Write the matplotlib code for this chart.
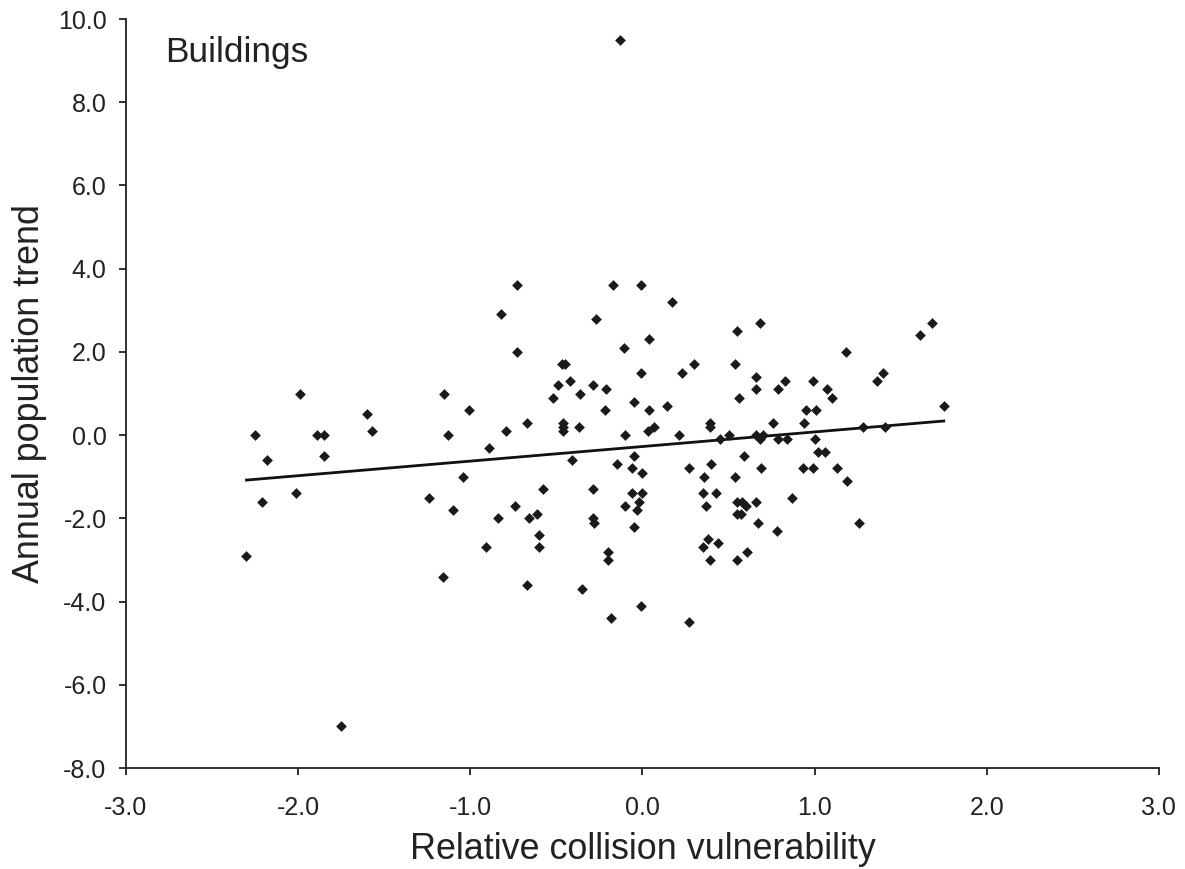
import matplotlib
matplotlib.use("Agg")
import matplotlib.pyplot as plt
import numpy as np

plt.rcParams['font.family'] = ['Liberation Sans', 'DejaVu Sans']

# Relative collision vulnerability (x) and annual population trend (y)
x_vals = [
    -2.30, -2.25, -2.18, -2.21, -1.99, -2.01, -1.89, -1.85, -1.85, -1.75,
    -1.60, -1.57, -1.15, -1.13, -1.01, -0.89, -0.79, -0.73, -1.24, -1.10,
    -1.04, -0.84, -0.74, -0.91, -1.16,
    -0.73, -0.82, -0.17, -0.01, -0.27, 0.17, -0.11, 0.04, 0.55, -0.47,
    -0.45, -0.49, -0.42, -0.36, -0.52, -0.29, -0.21, -0.22, -0.01, -0.05,
    0.04, 0.14, 0.23, 0.30, 0.54, 0.56, -0.67, -0.46, -0.46, -0.46,
    -0.37, -0.10, 0.03, 0.07, 0.21, 0.39, 0.39, 0.45, 0.50, -0.13,
    -0.41, -0.05, -0.15, -0.06, 0.00, 0.27, 0.40, 0.36, 0.54, -0.58,
    -0.29, -0.06, 0.00, -0.02, -0.10, -0.03, 0.35, 0.43, 0.37, 0.55,
    0.55, -0.66, -0.61, -0.60, -0.60, -0.29, -0.28, -0.05, -0.20, -0.20,
    0.38, 0.35, 0.44, 0.39, 0.55, -0.67, -0.35, -0.01, -0.18, 0.27,
    0.68, 0.66, 0.66, 0.83, 0.79, 0.99, 1.07, 1.10, 1.18, 1.61,
    1.68, 1.36, 1.40, 1.75, 0.95, 1.01, 0.94, 0.76, 1.28, 1.41,
    0.66, 0.68, 0.70, 0.79, 0.84, 1.00, 0.59, 0.69, 0.93, 0.99,
    1.02, 1.06, 1.13, 1.19, 0.87, 0.58, 0.60, 0.66, 0.57, 0.67,
    0.78, 1.26, 0.61,
]
y_vals = [
    -2.9, 0.0, -0.6, -1.6, 1.0, -1.4, 0.0, 0.0, -0.5, -7.0,
    0.5, 0.1, 1.0, 0.0, 0.6, -0.3, 0.1, 2.0, -1.5, -1.8,
    -1.0, -2.0, -1.7, -2.7, -3.4,
    3.6, 2.9, 3.6, 3.6, 2.8, 3.2, 2.1, 2.3, 2.5, 1.7,
    1.7, 1.2, 1.3, 1.0, 0.9, 1.2, 1.1, 0.6, 1.5, 0.8,
    0.6, 0.7, 1.5, 1.7, 1.7, 0.9, 0.3, 0.3, 0.2, 0.1,
    0.2, 0.0, 0.1, 0.2, 0.0, 0.3, 0.2, -0.1, 0.0, 9.5,
    -0.6, -0.5, -0.7, -0.8, -0.9, -0.8, -0.7, -1.0, -1.0, -1.3,
    -1.3, -1.4, -1.4, -1.6, -1.7, -1.8, -1.4, -1.4, -1.7, -1.6,
    -1.9, -2.0, -1.9, -2.4, -2.7, -2.0, -2.1, -2.2, -2.8, -3.0,
    -2.5, -2.7, -2.6, -3.0, -3.0, -3.6, -3.7, -4.1, -4.4, -4.5,
    2.7, 1.4, 1.1, 1.3, 1.1, 1.3, 1.1, 0.9, 2.0, 2.4,
    2.7, 1.3, 1.5, 0.7, 0.6, 0.6, 0.3, 0.3, 0.2, 0.2,
    0.0, -0.1, 0.0, -0.1, -0.1, -0.1, -0.5, -0.8, -0.8, -0.8,
    -0.4, -0.4, -0.8, -1.1, -1.5, -1.6, -1.7, -1.6, -1.9, -2.1,
    -2.3, -2.1, -2.8,
]

# Trend line endpoints
trend_x = [-2.30, 1.75]
trend_y = [-1.08, 0.34]

x_ticks = [-3.0, -2.0, -1.0, 0.0, 1.0, 2.0, 3.0]
y_ticks = [-8.0, -6.0, -4.0, -2.0, 0.0, 2.0, 4.0, 6.0, 8.0, 10.0]

fig = plt.figure(figsize=(11.85, 8.69), dpi=100)
ax = fig.add_axes([0.1063, 0.1162, 0.8717, 0.8619])

ax.scatter(x_vals, y_vals, marker='D', s=30, color='#1a1a1a', linewidths=0, zorder=3)
ax.plot(trend_x, trend_y, color='#111111', lw=2.0, zorder=2)

ax.set_xlim(-3.0, 3.0)
ax.set_ylim(-8.0, 10.0)
ax.set_xticks(x_ticks)
ax.set_yticks(y_ticks)
ax.set_xticklabels([f"{v:.1f}" for v in x_ticks])
ax.set_yticklabels([f"{v:.1f}" for v in y_ticks])
ax.tick_params(axis='both', direction='out', length=5, width=1.3, labelsize=18,
               colors='#222222')
ax.tick_params(axis='y', pad=9)
ax.tick_params(axis='x', pad=15)

for side in ['top', 'right']:
    ax.spines[side].set_visible(False)
for side in ['left', 'bottom']:
    ax.spines[side].set_linewidth(1.3)
    ax.spines[side].set_color('#222222')

ax.set_xlabel("Relative collision vulnerability", fontsize=25.8, color='#222222', labelpad=9)
ax.set_ylabel("Annual population trend", fontsize=25.8, color='#222222', labelpad=8)

ax.text(0.0378, 0.9426, "Buildings", transform=ax.transAxes, fontsize=25.4,
        color='#222222', va='baseline', ha='left')

fig.savefig("out.png", dpi=100, facecolor='white')
